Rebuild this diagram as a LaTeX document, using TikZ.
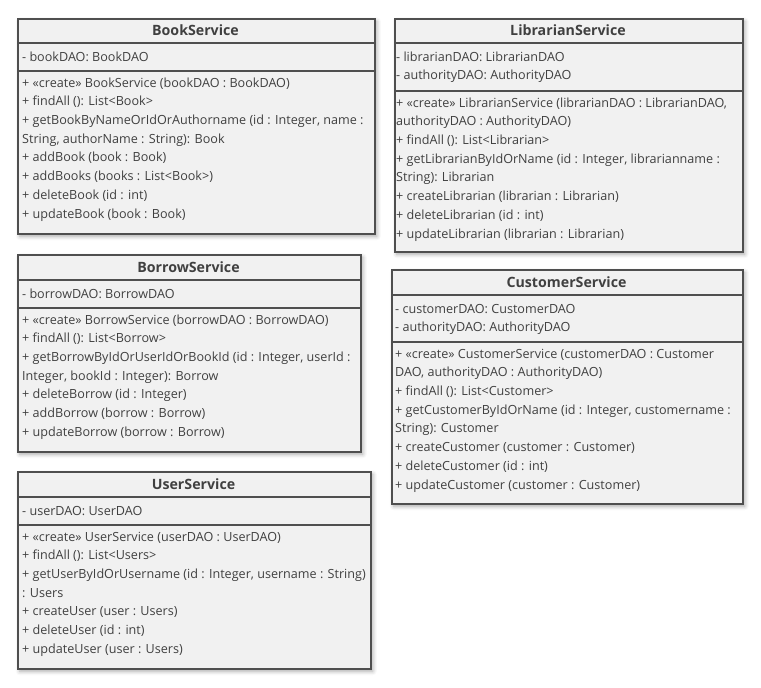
\documentclass[tikz,border=0pt]{standalone}
\usepackage{fontspec}
\setmainfont{Open Sans}
\usepackage{xcolor}
\usepackage{tikz}
\usetikzlibrary{calc}
\usetikzlibrary{positioning}
\usetikzlibrary{shadows.blur}
\definecolor{clsfill}{HTML}{F1F1F1}
\definecolor{clsborder}{HTML}{4F4F4F}
\definecolor{clstext}{HTML}{404040}
\tikzset{cls/.style = {rectangle, draw=clsborder, line width=1.6pt, fill=clsfill, anchor=north west, inner sep=0pt,
    blur shadow={shadow xshift=2pt, shadow yshift=-2.5pt, shadow blur radius=4pt, shadow opacity=35}}}
\tikzset{ttl/.style = {font=\bfseries\fontsize{14.2}{16}\selectfont, text=clstext}}
\tikzset{mem/.style = {anchor=north west, align=left, inner sep=0pt, font=\fontsize{12.6}{18.7}\selectfont, text=clstext}}
\tikzset{sep/.style = {draw=clsborder, line width=1.6pt}}

\begin{document}
\begin{tikzpicture}[x=1pt, y=-1pt]
\useasboundingbox (0,0) rectangle (761,688);
% BookService
\node [cls, minimum width=357pt, minimum height=215pt] (book) at (17,18) {};
\node [ttl] (book-title) at (195.5,30.5) {BookService};
\draw [sep] (book.west |- 0,43) -- (book.east |- 0,43);
\draw [sep] (book.west |- 0,71) -- (book.east |- 0,71);
\node [mem] (book-attr) at (22,47.9) {\strut- bookDAO: BookDAO};
\node [mem] (book-ops) at (22,73.9) {\strut+ «create» BookService (bookDAO : BookDAO)\\
+ findAll (): List<Book>\\
+ getBookByNameOrIdOrAuthorname (id : Integer, name :\\
String, authorName : String): Book\\
+ addBook (book : Book)\\
+ addBooks (books : List<Book>)\\
+ deleteBook (id : int)\\
+ updateBook (book : Book)};
% LibrarianService
\node [cls, minimum width=348pt, minimum height=233pt] (librarian) at (394,18) {};
\node [ttl] (librarian-title) at (568,30.5) {LibrarianService};
\draw [sep] (librarian.west |- 0,43) -- (librarian.east |- 0,43);
\draw [sep] (librarian.west |- 0,91) -- (librarian.east |- 0,91);
\node [mem] (librarian-attr) at (396,47.9) {\strut- librarianDAO: LibrarianDAO\\
- authorityDAO: AuthorityDAO};
\node [mem] (librarian-ops) at (396,93.9) {\strut+ «create» LibrarianService (librarianDAO : LibrarianDAO,\\
authorityDAO : AuthorityDAO)\\
+ findAll (): List<Librarian>\\
+ getLibrarianByIdOrName (id : Integer, librarianname :\\
String): Librarian\\
+ createLibrarian (librarian : Librarian)\\
+ deleteLibrarian (id : int)\\
+ updateLibrarian (librarian : Librarian)};
% BorrowService
\node [cls, minimum width=343pt, minimum height=197pt] (borrow) at (17,254) {};
\node [ttl] (borrow-title) at (188.5,267) {BorrowService};
\draw [sep] (borrow.west |- 0,280) -- (borrow.east |- 0,280);
\draw [sep] (borrow.west |- 0,308) -- (borrow.east |- 0,308);
\node [mem] (borrow-attr) at (22,284.9) {\strut- borrowDAO: BorrowDAO};
\node [mem] (borrow-ops) at (22,310.9) {\strut+ «create» BorrowService (borrowDAO : BorrowDAO)\\
+ findAll (): List<Borrow>\\
+ getBorrowByIdOrUserIdOrBookId (id : Integer, userId :\\
Integer, bookId : Integer): Borrow\\
+ deleteBorrow (id : Integer)\\
+ addBorrow (borrow : Borrow)\\
+ updateBorrow (borrow : Borrow)};
% CustomerService
\node [cls, minimum width=351pt, minimum height=234pt] (customer) at (391,269) {};
\node [ttl] (customer-title) at (566.5,282) {CustomerService};
\draw [sep] (customer.west |- 0,295) -- (customer.east |- 0,295);
\draw [sep] (customer.west |- 0,342) -- (customer.east |- 0,342);
\node [mem] (customer-attr) at (395,299.9) {\strut- customerDAO: CustomerDAO\\
- authorityDAO: AuthorityDAO};
\node [mem] (customer-ops) at (395,344.9) {\strut+ «create» CustomerService (customerDAO : Customer\\
DAO, authorityDAO : AuthorityDAO)\\
+ findAll (): List<Customer>\\
+ getCustomerByIdOrName (id : Integer, customername :\\
String): Customer\\
+ createCustomer (customer : Customer)\\
+ deleteCustomer (id : int)\\
+ updateCustomer (customer : Customer)};
% UserService
\node [cls, minimum width=353pt, minimum height=197pt] (user) at (17,471) {};
\node [ttl] (user-title) at (193.5,484) {UserService};
\draw [sep] (user.west |- 0,497) -- (user.east |- 0,497);
\draw [sep] (user.west |- 0,525) -- (user.east |- 0,525);
\node [mem] (user-attr) at (22,501.9) {\strut- userDAO: UserDAO};
\node [mem] (user-ops) at (22,527.9) {\strut+ «create» UserService (userDAO : UserDAO)\\
+ findAll (): List<Users>\\
+ getUserByIdOrUsername (id : Integer, username : String)\\
: Users\\
+ createUser (user : Users)\\
+ deleteUser (id : int)\\
+ updateUser (user : Users)};
\end{tikzpicture}
\end{document}
